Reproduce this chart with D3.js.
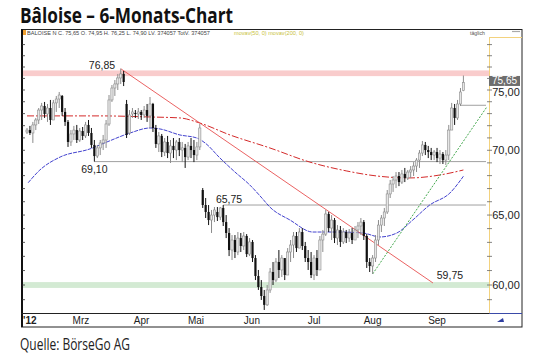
<!DOCTYPE html>
<html>
<head>
<meta charset="utf-8">
<script src="https://cdn.jsdelivr.net/npm/d3@7"></script>
<style>
  body { margin: 0; background: #fff; }
  svg { display: block; }
</style>
</head>
<body>
<div id="chart"></div>
<script>
// daily bars, Feb - Sep 2012
const openP = [71.48,71.64,71.40,72.06,72.47,73.30,73.64,72.97,73.47,72.47,
  73.90,74.23,74.49,73.14,72.31,70.67,71.32,71.64,70.83,71.56,
  71.16,72.06,71.40,70.43,69.54,70.19,70.59,70.83,72.14,74.15,
  75.17,75.52,76.04,76.39,73.81,71.40,72.97,73.05,72.97,73.14,
  72.89,73.30,72.81,73.81,71.81,70.51,71.16,69.86,70.67,69.78,
  70.35,70.02,70.67,70.02,70.19,69.46,70.35,70.02,69.62,70.27,
  66.89,65.75,65.23,64.63,65.00,65.23,64.85,65.53,64.48,63.68,
  62.45,63.17,62.31,63.31,62.74,63.46,62.16,63.03,61.88,60.62,
  59.86,59.25,58.65,59.66,60.90,60.34,61.60,61.04,61.88,60.69,
  62.31,62.81,63.46,62.59,63.75,62.74,61.88,61.60,60.69,61.88,
  61.04,63.17,63.60,65.08,64.04,64.63,63.31,63.90,63.03,63.75,
  63.31,63.68,63.17,63.90,64.19,64.48,63.46,61.60,61.32,61.88,
  63.17,64.26,64.78,65.23,66.59,67.35,67.66,67.97,67.50,68.13,
  67.82,68.28,68.44,68.75,69.22,69.78,70.43,70.02,69.86,69.62,
  69.86,69.38,69.70,69.22,69.62,71.64,73.47,72.64,73.81,74.95];
const highP = [71.81,71.98,72.31,72.64,73.47,73.90,73.98,73.81,74.15,74.15,
  74.49,74.83,74.57,73.47,72.47,71.64,71.98,72.06,71.81,71.89,
  72.31,72.47,71.81,70.83,70.43,70.83,71.24,72.47,74.57,75.43,
  75.86,76.39,76.85,76.65,74.15,73.30,73.47,73.30,73.47,73.30,
  73.64,73.81,74.40,73.90,72.06,71.48,71.32,70.99,71.16,70.83,
  70.99,70.83,70.99,70.67,70.51,70.67,70.99,70.83,70.67,72.14,
  67.04,66.28,65.75,65.38,65.60,65.60,65.60,65.75,65.00,64.04,
  63.53,63.53,63.75,63.68,63.75,63.60,63.31,63.17,62.09,61.04,
  60.34,59.66,60.00,61.18,61.60,61.88,62.45,62.09,61.74,62.59,
  63.17,63.75,63.75,64.04,64.04,63.03,62.45,62.31,62.09,62.45,
  63.46,63.90,65.38,65.23,65.00,64.78,64.26,64.19,64.04,63.90,
  63.97,64.04,64.19,64.48,64.78,64.63,63.60,61.88,62.09,63.53,
  64.63,65.00,65.53,66.89,67.66,67.97,68.28,68.28,68.44,68.60,
  68.44,68.75,69.06,69.38,70.02,70.75,70.67,70.35,70.19,70.02,
  70.19,70.02,69.86,70.02,72.06,73.90,73.81,74.15,75.17,76.25];
const lowP = [71.32,71.24,70.59,71.64,72.14,72.47,72.64,72.31,72.06,72.72,
  73.14,73.47,72.81,71.98,70.27,70.35,70.83,70.59,70.67,70.83,
  70.99,71.16,70.19,69.10,69.38,69.62,70.02,70.19,71.98,73.98,
  74.49,75.00,75.52,75.34,70.99,71.24,72.64,72.64,72.55,72.47,
  72.64,72.31,71.81,71.48,70.19,69.86,69.46,69.54,69.38,68.99,
  69.38,69.22,69.54,69.06,68.60,69.22,69.38,69.06,69.22,70.02,
  65.53,64.78,64.26,63.68,64.48,64.56,64.63,64.19,63.31,62.02,
  61.74,61.88,62.09,62.31,62.45,61.95,62.02,61.60,60.34,59.66,
  58.98,58.31,58.58,59.46,60.00,60.20,60.48,60.55,60.34,60.69,
  61.60,61.88,62.31,62.59,62.45,61.60,61.04,60.48,60.34,60.62,
  61.39,62.31,63.46,63.75,63.17,62.95,62.81,62.67,62.88,62.95,
  63.03,62.88,63.17,63.31,63.53,63.17,61.18,60.90,60.76,61.60,
  62.81,63.75,64.19,65.08,66.28,66.74,67.04,67.19,67.35,67.50,
  67.66,67.82,67.97,68.28,68.60,69.54,69.62,69.38,69.22,69.22,
  69.06,68.91,68.91,68.83,69.22,71.64,72.06,72.47,73.64,74.90];
const closeP = [71.64,71.40,72.06,72.47,73.30,73.64,72.97,73.47,72.47,73.90,
  74.23,74.57,73.14,72.31,70.67,71.32,71.64,70.83,71.56,71.16,
  72.06,71.40,70.43,69.54,70.19,70.59,70.83,72.14,74.15,75.17,
  75.52,76.04,76.39,75.69,71.24,72.89,73.14,72.97,73.14,72.89,
  73.30,72.81,73.81,71.81,70.51,71.16,69.86,70.67,69.78,70.35,
  70.02,70.67,70.02,70.19,69.46,70.35,70.02,69.62,70.27,71.81,
  65.75,65.23,64.63,65.00,65.38,64.85,65.53,64.48,63.68,62.45,
  63.17,62.31,63.31,62.74,63.46,62.16,63.03,61.88,60.62,59.86,
  59.25,58.65,59.66,60.90,60.34,61.60,61.04,61.88,60.69,62.31,
  62.81,63.46,62.59,63.75,62.74,61.88,61.60,60.69,61.88,61.04,
  63.17,63.60,65.08,64.04,64.63,63.31,63.90,63.03,63.75,63.31,
  63.68,63.17,63.90,64.19,64.48,63.46,61.60,61.32,61.88,63.17,
  64.26,64.78,65.23,66.59,67.35,67.66,67.97,67.50,68.13,67.82,
  68.28,68.44,68.75,69.22,69.78,70.43,70.02,69.86,69.62,69.86,
  69.38,69.70,69.22,69.62,71.64,73.47,72.64,73.81,74.83,75.65];

// moving averages, [bar index, value]
const ma50 = [[0.4,67.45],[4.4,68.44],[11.3,69.46],[21.5,70.11],[27.3,70.67],[35.2,71.40],
  [42,71.81],[45.4,71.73],[52.2,71.24],[58,70.99],[60.8,70.59],[65.9,69.38],[71,68.28],
  [76.1,67.27],[80.2,66.28],[82.9,65.60],[89.8,64.63],[97.6,63.75],[105.8,63.75],
  [114.7,63.68],[120.5,63.39],[126.3,63.68],[131.7,64.63],[137.5,65.75],[144.4,66.66],[149,67.95]];
const ma200 = [[0,72.81],[24.9,72.81],[42,72.72],[52.2,72.64],[59,72.22],[69.3,71.24],
  [82.9,70.19],[96.6,69.06],[109.2,68.36],[119.5,67.97],[130.7,67.82],[141,68.05],[149,68.44]];

// drawn lines and zones
const downTrend = [[32,76.85],[138.6,60.14]];
const upTrend = [[118,60.76],[157,73.56]];
const hLineValues = [69.10, 65.75, 73.70];
const hLineStart = [23, 67, 148];
const resistBand = [76.2, 76.7];
const supportBand = [59.8, 60.2];
const levelText = ["76,85", "69,10", "65,75", "59,75"];

const monthLabels = ["Mrz", "Apr", "Mai", "Jun", "Jul", "Aug", "Sep"];
const monthPos = [18.4, 39.1, 57.7, 76.8, 98, 118, 140];
const priceLabels = [60, 65, 70, 75];
const lastPrice = 75.65;

const W = 540, H = 354;
const plot = { left: 22, right: 489, top: 30, bottom: 313 };

const svg = d3.select('#chart').append('svg')
  .attr('width', W).attr('height', H)
  .style('font-family', '"Liberation Sans", Arial, sans-serif');

const x = d3.scaleLinear().domain([0, closeP.length - 1]).range([27, 463.4]);
const y = d3.scaleLog().domain([60, 75]).range([285, 90]);
const fmt = v => d3.format('.2f')(v).replace('.', ',');

// title
svg.append('text')
  .attr('x', 20).attr('y', 23)
  .attr('font-family', '"Open Sans", "Noto Sans", sans-serif')
  .attr('font-weight', 700).attr('font-size', 21)
  .attr('textLength', 213).attr('lengthAdjust', 'spacingAndGlyphs')
  .attr('fill', '#111')
  .text('Bâloise – 6-Monats-Chart');

svg.append('text')
  .attr('x', 20).attr('y', 350)
  .attr('font-family', '"Open Sans", "Noto Sans", sans-serif')
  .attr('font-size', 16)
  .attr('textLength', 110).attr('lengthAdjust', 'spacingAndGlyphs')
  .attr('fill', '#222')
  .text('Quelle: BörseGo AG');

svg.append('clipPath').attr('id', 'plotclip')
  .append('rect')
  .attr('x', plot.left).attr('y', plot.top)
  .attr('width', plot.right - plot.left).attr('height', plot.bottom - plot.top);

const pg = svg.append('g').attr('clip-path', 'url(#plotclip)');

// zones
pg.append('rect')
  .attr('x', plot.left).attr('width', plot.right - plot.left)
  .attr('y', y(resistBand[1])).attr('height', y(resistBand[0]) - y(resistBand[1]))
  .attr('fill', '#f9cccc');
pg.append('rect')
  .attr('x', plot.left).attr('width', plot.right - plot.left)
  .attr('y', y(supportBand[1])).attr('height', y(supportBand[0]) - y(supportBand[1]))
  .attr('fill', '#d3ead3');

// horizontal lines
pg.selectAll('.hline').data(hLineValues).join('line')
  .attr('x1', (d, i) => x(hLineStart[i])).attr('x2', 486)
  .attr('y1', d => y(d)).attr('y2', d => y(d))
  .attr('stroke', '#a0a0a0').attr('stroke-width', 1);

// moving averages
const maLine = d3.line().x(d => x(d[0])).y(d => y(d[1])).curve(d3.curveMonotoneX);
pg.append('path').attr('d', maLine(ma200))
  .attr('fill', 'none').attr('stroke', '#d42a2a').attr('stroke-width', 1)
  .attr('stroke-dasharray', '7,2,2,2');
pg.append('path').attr('d', maLine(ma50))
  .attr('fill', 'none').attr('stroke', '#2e2ec8').attr('stroke-width', 0.9)
  .attr('stroke-dasharray', '4,1');

// trend lines
const straight = d3.line().x(d => x(d[0])).y(d => y(d[1]));
pg.append('path').attr('d', straight(downTrend))
  .attr('fill', 'none').attr('stroke', '#e85050').attr('stroke-width', 0.9);
pg.append('path').attr('d', straight(upTrend))
  .attr('fill', 'none').attr('stroke', '#2f9e3a').attr('stroke-width', 0.9)
  .attr('stroke-dasharray', '2,1.5');

// candles
const bars = closeP.map((c, i) => ({ i, o: openP[i], h: highP[i], l: lowP[i], c }));
const up = d => d.c >= d.o;
pg.append('g').selectAll('line').data(bars).join('line')
  .attr('x1', d => x(d.i)).attr('x2', d => x(d.i))
  .attr('y1', d => y(d.h)).attr('y2', d => y(d.l))
  .attr('stroke', d => up(d) ? '#8c8c8c' : '#111').attr('stroke-width', 1);
pg.append('g').selectAll('rect').data(bars).join('rect')
  .attr('x', d => x(d.i) - 1.1).attr('width', 2.2)
  .attr('y', d => y(Math.max(d.o, d.c)))
  .attr('height', d => Math.max(1, Math.abs(y(d.o) - y(d.c))))
  .attr('fill', d => up(d) ? '#e6e6e6' : '#111')
  .attr('stroke', d => up(d) ? '#8c8c8c' : 'none').attr('stroke-width', 0.6);

// level labels
const lab = svg.append('g').attr('font-size', 10.5).attr('fill', '#222').attr('text-anchor', 'middle');
lab.append('text').attr('x', x(25.6)).attr('y', y(76.85)).text(levelText[0]);
lab.append('text').attr('x', x(23)).attr('y', y(69.10) + 11).text(levelText[1]);
lab.append('text').attr('x', x(69)).attr('y', y(65.75) - 2).text(levelText[2]);
lab.append('text').attr('x', x(144.4)).attr('y', y(60) - 6).text(levelText[3]);

// frame
svg.append('rect').attr('x', 21.5).attr('y', 29.5).attr('width', 500.5).attr('height', 297.5)
  .attr('fill', 'none').attr('stroke', '#222').attr('stroke-width', 1);
svg.append('line').attr('x1', 22).attr('x2', 22).attr('y1', 29).attr('y2', 327)
  .attr('stroke', '#111').attr('stroke-width', 2);
svg.append('line').attr('x1', 21).attr('x2', 489).attr('y1', 313.5).attr('y2', 313.5)
  .attr('stroke', '#222').attr('stroke-width', 1);
svg.append('line').attr('x1', 489).attr('x2', 522).attr('y1', 313.5).attr('y2', 313.5)
  .attr('stroke', '#3a4aa8').attr('stroke-width', 1.2);
svg.append('line').attr('x1', 489.5).attr('x2', 489.5).attr('y1', 37).attr('y2', 313)
  .attr('stroke', '#f3d27e').attr('stroke-width', 1);
svg.append('line').attr('x1', 489).attr('x2', 522).attr('y1', 37.5).attr('y2', 37.5)
  .attr('stroke', '#f3d27e').attr('stroke-width', 1);

// price ticks on both sides
const minorTicks = d3.range(59, 80).filter(v => y(v) > 38 && y(v) < 312);
svg.append('g').selectAll('line').data(minorTicks).join('line')
  .attr('x1', 487).attr('x2', 492).attr('y1', d => y(d)).attr('y2', d => y(d))
  .attr('stroke', '#666').attr('stroke-width', 0.8);
svg.append('g').selectAll('line').data(minorTicks).join('line')
  .attr('x1', 22).attr('x2', 25).attr('y1', d => y(d)).attr('y2', d => y(d))
  .attr('stroke', '#333').attr('stroke-width', 0.8);

svg.append('g').attr('font-size', 11).attr('fill', '#222').attr('text-anchor', 'middle')
  .selectAll('text').data(priceLabels).join('text')
  .attr('x', 506).attr('y', d => y(d) + (d === 75 ? 6 : 4)).text(fmt);

// last price box sits just above the 75,00 label
svg.append('rect').attr('x', 489).attr('y', y(lastPrice) - 6.5).attr('width', 31).attr('height', 10)
  .attr('fill', '#6e6e6e');
svg.append('text').attr('x', 504.5).attr('y', y(lastPrice) + 1.6)
  .attr('font-size', 10).attr('fill', '#fff').attr('text-anchor', 'middle').text(fmt(lastPrice));

// month axis
svg.append('text').attr('x', 23).attr('y', 324).attr('font-size', 10).attr('font-weight', 700)
  .attr('fill', '#222').text("'12");
svg.append('g').attr('font-size', 10).attr('fill', '#222').attr('text-anchor', 'middle')
  .selectAll('text').data(monthLabels).join('text')
  .attr('x', (d, i) => x(monthPos[i])).attr('y', 324).text(d => d);

// corner icon
svg.append('path').attr('d', 'M497,322 L503,318 L504,322 Z').attr('fill', '#2f3fa0');

// header line
svg.append('rect').attr('x', 23).attr('y', 30).attr('width', 3).attr('height', 5).attr('fill', '#f0a030');
svg.append('text').attr('x', 27).attr('y', 35).attr('font-size', 5.6).attr('fill', '#444')
  .text('BALOISE N C. 75,65 O. 74,95 H. 76,25 L. 74,90 LV. 374057 TotV. 374057');
svg.append('text').attr('x', 234).attr('y', 35).attr('font-size', 5.6).attr('fill', '#c9c23a')
  .text('movav(50, 0)  movav(200, 0)');
svg.append('text').attr('x', 470).attr('y', 35).attr('font-size', 5.2).attr('fill', '#555').text('täglich');
svg.append('line').attr('x1', 512).attr('x2', 520).attr('y1', 31.5).attr('y2', 31.5)
  .attr('stroke', '#aaa').attr('stroke-width', 1.2);
</script>
</body>
</html>
